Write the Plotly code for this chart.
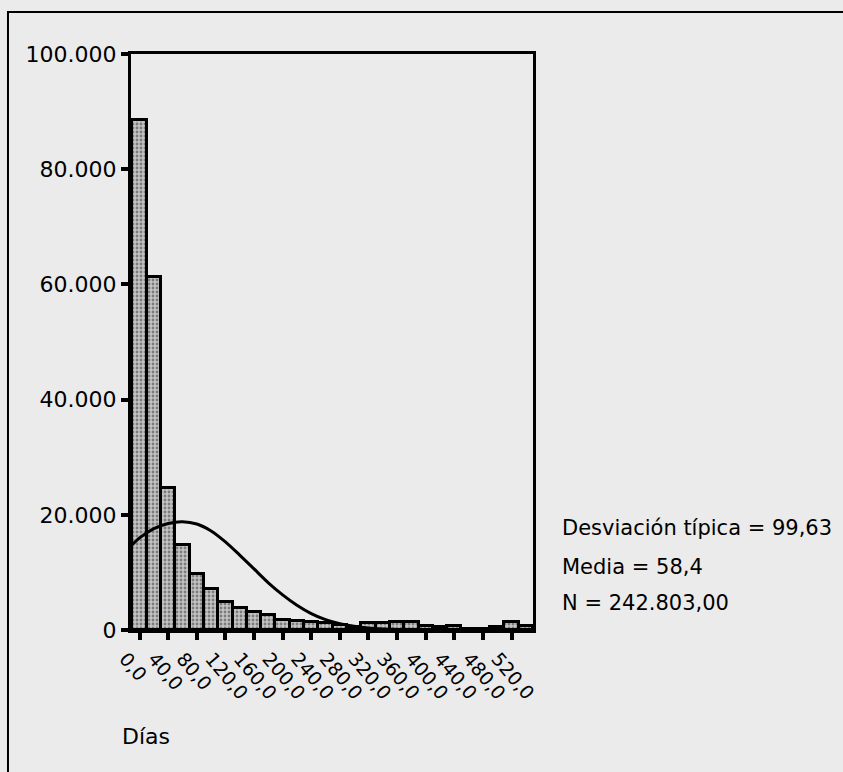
import plotly.graph_objects as go

# Histogram bins (midpoints, days) and frequencies
bin_mid = [0, 20, 40, 60, 80, 100, 120, 140, 160, 180, 200, 220, 240, 260,
           280, 300, 320, 340, 360, 380, 400, 420, 440, 460, 480, 500, 520, 540]
freq = [88500, 61300, 24700, 14800, 9700, 7100, 4900, 3900, 3200, 2600, 1800,
        1500, 1450, 1150, 950, 450, 1250, 1150, 1450, 1350, 750, 500, 700,
        250, 250, 550, 1450, 650]

# Normal curve points
curve_x = [-12, 0, 20, 40, 60, 80, 100, 120, 140, 160, 180, 200, 220, 240,
           260, 280, 300, 320, 340, 360, 380, 400, 450, 500, 550]
curve_y = [14600, 16000, 17600, 18500, 18800, 18400, 17200, 15300, 13000,
           10600, 8200, 6100, 4300, 2850, 1800, 1100, 650, 350, 180, 80, 30,
           0, 0, 0, 0]

stats_lines = ["Desviación típica = 99,63", "Media = 58,4", "N = 242.803,00"]
x_title = "Días"
y_ticks = [0, 20000, 40000, 60000, 80000, 100000]
x_ticks = [0, 40, 80, 120, 160, 200, 240, 280, 320, 360, 400, 440, 480, 520]

FONT = "DejaVu Sans"
BG = "#ebebeb"

fig = go.Figure()
fig.add_trace(go.Bar(
    x=bin_mid, y=freq, width=20,
    marker=dict(color="#b0b0b0",
                line=dict(color="black", width=3),
                pattern=dict(shape=".", fgcolor="#333333", bgcolor="#c4c4c4",
                             size=4, solidity=0.4)),
    showlegend=False, hoverinfo="x+y"))
fig.add_trace(go.Scatter(
    x=curve_x, y=curve_y, mode="lines",
    line=dict(color="black", width=3, shape="spline", smoothing=0.8),
    showlegend=False, hoverinfo="skip"))

L, R, T, B = 131, 310, 54, 142
W, H = 843, 772
pw = W - L - R
ph = H - T - B

def px_x(p):
    return (p - L) / pw

def px_y(p):
    return (H - B - p) / ph

annotations = []
for line, yc in zip(stats_lines, [528, 567, 603]):
    annotations.append(dict(text=line, x=px_x(560), y=px_y(yc), xref="paper", yref="paper",
                            xanchor="left", yanchor="middle", showarrow=False,
                            font=dict(family=FONT, size=21, color="black")))
annotations.append(dict(text=x_title, x=px_x(120), y=px_y(736), xref="paper", yref="paper",
                        xanchor="left", yanchor="middle", showarrow=False,
                        font=dict(family=FONT, size=22, color="black")))

frame_path = "M {:.4f},{:.4f} L {:.4f},{:.4f} L {:.4f},{:.4f}".format(
    px_x(8), px_y(780), px_x(8), px_y(12), px_x(850), px_y(12))
shapes = [
    dict(type="path", xref="paper", yref="paper", path=frame_path,
         line=dict(color="black", width=2)),
]

fig.update_layout(
    width=W, height=H,
    margin=dict(l=L, r=R, t=T, b=B, pad=0),
    paper_bgcolor=BG, plot_bgcolor=BG,
    separators=",.",
    bargap=0,
    font=dict(family=FONT, color="black"),
    annotations=annotations,
    shapes=shapes,
    xaxis=dict(range=[-12, 550], tickvals=x_ticks, tickformat=".1f",
               tickangle=50, ticks="outside", ticklen=7, tickwidth=4,
               tickcolor="black", showline=True, linecolor="black",
               linewidth=3, mirror=True, showgrid=False, zeroline=False,
               tickfont=dict(family=FONT, size=19, color="black"),
               ticklabelshift=-14),
    yaxis=dict(range=[0, 100000], tickvals=y_ticks, tickformat=",d",
               ticks="outside", ticklen=7, tickwidth=4, tickcolor="black",
               showline=True, linecolor="black", linewidth=3, mirror=True,
               showgrid=False, zeroline=False,
               tickfont=dict(family=FONT, size=22, color="black")),
)

fig.write_html("out.html")
